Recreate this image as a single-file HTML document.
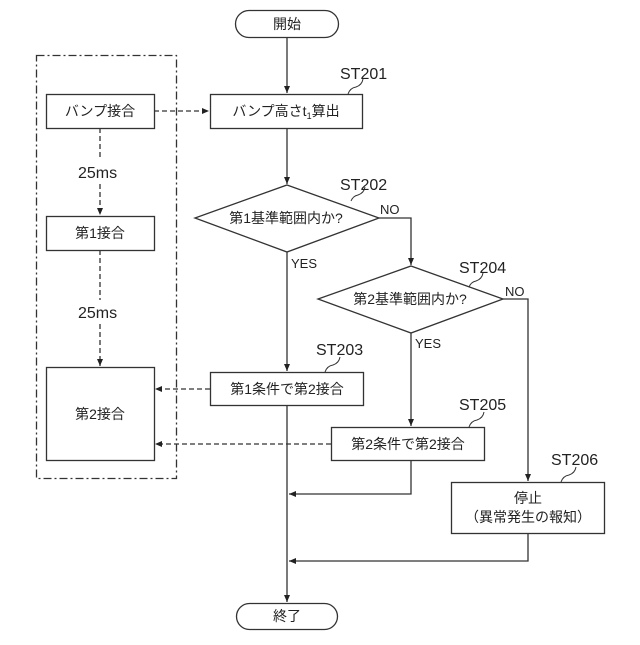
<!DOCTYPE html>
<html><head><meta charset="utf-8"><style>
html,body{margin:0;padding:0;background:#fff;}
svg text{font-family:"Liberation Sans","Noto Sans CJK JP",sans-serif;fill:#222;}
</style></head><body>
<svg width="640" height="640" viewBox="0 0 640 640" xmlns="http://www.w3.org/2000/svg">
<defs>
<marker id="a" markerWidth="8" markerHeight="8" refX="7" refY="3" orient="auto" markerUnits="userSpaceOnUse"><path d="M0,0 L7,3 L0,6 z" fill="#222"/></marker>
</defs>
<g fill="none" stroke="#333" stroke-width="1.3">
<rect x="235.5" y="10.5" width="103" height="27" rx="13.5"/>
<rect x="236.5" y="603.5" width="101" height="26" rx="13"/>
<rect x="36.5" y="55.5" width="140" height="423" stroke-dasharray="8,3,2,3"/>
<rect x="46.5" y="94.5" width="108" height="34"/>
<rect x="46.5" y="216.5" width="108" height="34"/>
<rect x="46.5" y="367.5" width="108" height="93"/>
<rect x="210.5" y="94.5" width="152" height="34"/>
<polygon points="287,185 379,218 287,252 195,218"/>
<polygon points="411,266 503,299 411,333 318,299"/>
<rect x="210.5" y="372.5" width="153" height="33"/>
<rect x="331.5" y="427.5" width="153" height="33"/>
<rect x="451.5" y="482.5" width="153" height="51"/>
<line x1="287" y1="37" x2="287" y2="93" marker-end="url(#a)"/>
<line x1="287" y1="128" x2="287" y2="184" marker-end="url(#a)"/>
<line x1="287" y1="252" x2="287" y2="371" marker-end="url(#a)"/>
<line x1="287" y1="405" x2="287" y2="602" marker-end="url(#a)"/>
<polyline points="379,218 411,218 411,265" marker-end="url(#a)"/>
<line x1="411" y1="333" x2="411" y2="426" marker-end="url(#a)"/>
<polyline points="503,299 528,299 528,481" marker-end="url(#a)"/>
<polyline points="411,460 411,494 289,494" marker-end="url(#a)"/>
<polyline points="528,533 528,561 289,561" marker-end="url(#a)"/>
<g stroke-dasharray="5,3">
<line x1="154" y1="111" x2="209" y2="111" marker-end="url(#a)"/>
<line x1="210" y1="389" x2="155" y2="389" marker-end="url(#a)"/>
<line x1="331" y1="444" x2="155" y2="444" marker-end="url(#a)"/>
<line x1="100" y1="128" x2="100" y2="159"/>
<line x1="100" y1="184" x2="100" y2="215" marker-end="url(#a)"/>
<line x1="100" y1="250" x2="100" y2="300"/>
<line x1="100" y1="324" x2="100" y2="366" marker-end="url(#a)"/>
</g>
<path d="M348,94 q2,-6 8,-7 q6,-2 7,-8" stroke-width="1"/>
<path d="M351,201 q2,-5 7,-6 q6,-2 7,-8" stroke-width="1"/>
<path d="M325,372 q2,-6 8,-7 q6,-2 7,-8"  stroke-width="1"/>
<path d="M469,287 q2,-5 7,-6 q6,-2 7,-8"  stroke-width="1"/>
<path d="M469,427 q2,-6 8,-7 q6,-2 7,-8"  stroke-width="1"/>
<path d="M561,482 q2,-6 8,-7 q6,-2 7,-8"  stroke-width="1"/>
</g>
<g font-size="14" text-anchor="middle">
<text x="287" y="29">開始</text>
<text x="287" y="621">終了</text>
<text x="100" y="116">バンプ接合</text>
<text x="100" y="238">第1接合</text>
<text x="100" y="419">第2接合</text>
<text x="286" y="116">バンプ高さt<tspan font-size="9" dy="3">1</tspan><tspan dy="-3">算出</tspan></text>
<text x="286" y="223">第1基準範囲内か?</text>
<text x="410" y="304">第2基準範囲内か?</text>
<text x="287" y="394">第1条件で第2接合</text>
<text x="408" y="449">第2条件で第2接合</text>
<text x="528" y="503">停止</text>
<text x="528" y="522">（異常発生の報知）</text>
</g>
<g font-size="16">
<text x="78" y="178">25ms</text>
<text x="78" y="318">25ms</text>
<text x="340" y="79">ST201</text>
<text x="340" y="190">ST202</text>
<text x="316" y="355">ST203</text>
<text x="459" y="273">ST204</text>
<text x="459" y="410">ST205</text>
<text x="551" y="465">ST206</text>
</g>
<g font-size="13">
<text x="380" y="214">NO</text>
<text x="505" y="296">NO</text>
<text x="291" y="268">YES</text>
<text x="415" y="348">YES</text>
</g>
</svg>
</body></html>
